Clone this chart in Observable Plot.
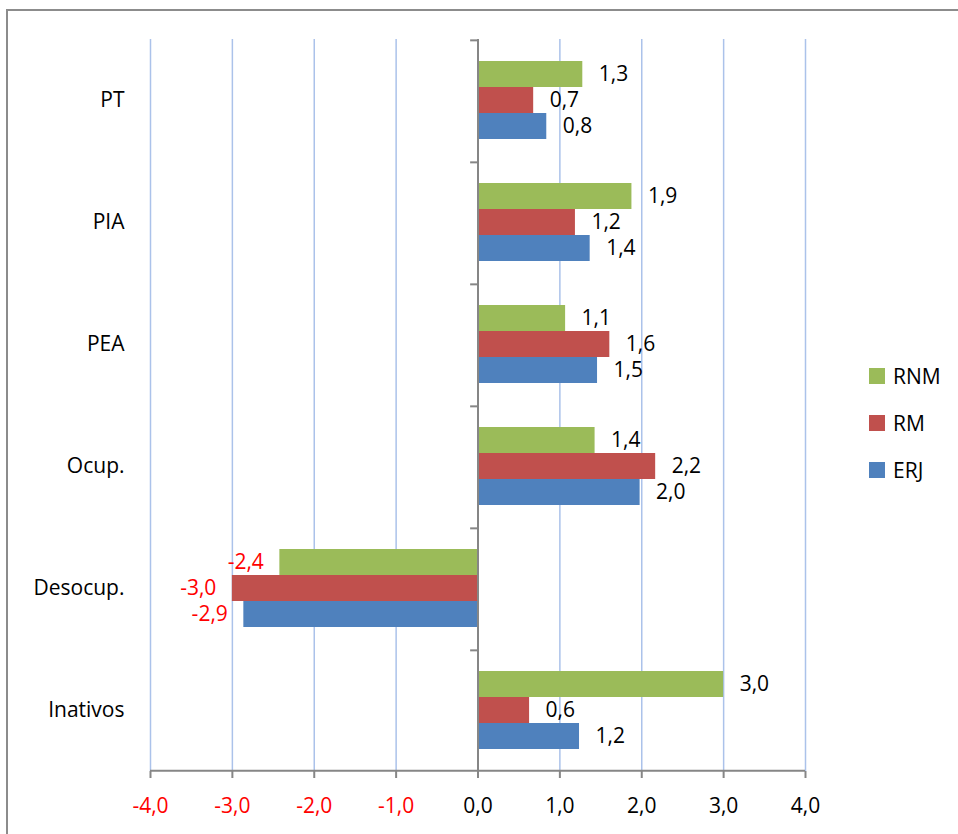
<!DOCTYPE html>
<html>
<head>
<meta charset="utf-8">
<script src="https://cdn.jsdelivr.net/npm/d3@7"></script>
<script src="https://cdn.jsdelivr.net/npm/@observablehq/plot@0.6"></script>
<style>
  html, body { margin: 0; padding: 0; background: #fff; overflow: hidden; }
  #wrap { position: relative; width: 958px; height: 834px; overflow: hidden; font-family: "Open Sans", Lato, sans-serif; }
  #border { position: absolute; left: 6px; top: 9px; width: 1000px; height: 900px; border-left: 2px solid #8c8c8c; border-top: 2px solid #8c8c8c; box-sizing: border-box; }
  #chart { position: absolute; left: 0; top: 0; }
  #legend { position: absolute; left: 869px; top: 362px; }
  .item { display: flex; align-items: center; height: 28px; margin-bottom: 19px; font-size: 21px; color: #000; }
  .sw { width: 16px; height: 16px; margin-right: 8px; }
</style>
</head>
<body>
<div id="wrap">
  <div id="border"></div>
  <div id="chart"></div>
  <div id="legend"></div>
</div>
<script>
const categories = ["PT", "PIA", "PEA", "Ocup.", "Desocup.", "Inativos"];
const series = ["RNM", "RM", "ERJ"];
const colors = ["#9BBB59", "#C0504D", "#4F81BD"];
const rnm = [1.28, 1.88, 1.07, 1.43, -2.42, 3.0];
const rm  = [0.68, 1.19, 1.61, 2.17, -3.0, 0.63];
const erj = [0.84, 1.37, 1.46, 1.98, -2.86, 1.24];
const xTicks = [-4, -3, -2, -1, 0, 1, 2, 3, 4];

const W = 958, H = 834;
const mT = 37, mB = 62, mL = 150, mR = 153;
const padOuter = 0.76;
const facetH = (H - mT - mB) / categories.length;
const step = facetH / (series.length + 2 * padOuter);
const edge = (padOuter + 0.5) * step;

const values = {RNM: rnm, RM: rm, ERJ: erj};
const rows = [];
categories.forEach((c, i) => series.forEach(s => rows.push({cat: c, series: s, value: values[s][i]})));

const fmt = v => v.toFixed(1).replace(".", ",");
const gridColor = "#abc2ea";
const axisColor = "#868686";
const font = "'Open Sans', Lato, sans-serif";
const fs = 21;

const chart = Plot.plot({
  width: W, height: H,
  marginTop: mT, marginBottom: mB, marginLeft: mL, marginRight: mR,
  style: {fontFamily: font, background: "transparent"},
  x: {domain: [-4, 4], axis: null},
  y: {domain: series, paddingInner: 0, paddingOuter: padOuter, axis: null},
  fy: {domain: categories, padding: 0, axis: null},
  color: {domain: series, range: colors},
  marks: [
    Plot.gridX(xTicks.filter(d => d !== 0), {stroke: gridColor, strokeOpacity: 1, strokeWidth: 1.5}),
    Plot.barX(rows, {fy: "cat", y: "series", x: "value", fill: "series"}),
    Plot.ruleX([0], {stroke: axisColor, strokeWidth: 2}),
    Plot.ruleY(categories, {fy: d => d, y: () => "RNM", x1: -0.09, x2: 0, dy: -edge, stroke: axisColor, strokeWidth: 2}),
    Plot.ruleY(categories.slice(-1), {fy: d => d, y: () => "ERJ", x1: -4, x2: 4, dy: edge, stroke: axisColor, strokeWidth: 2}),
    Plot.text(rows.filter(d => d.value >= 0), {fy: "cat", y: "series", x: "value", text: d => fmt(d.value), dx: 16, dy: 0, textAnchor: "start", fill: "#000", fontSize: fs}),
    Plot.text(rows.filter(d => d.value < 0), {fy: "cat", y: "series", x: "value", text: d => fmt(d.value), dx: -16, dy: 0, textAnchor: "end", fill: "#ff0000", fontSize: fs}),
    Plot.axisX(xTicks.filter(d => d < 0), {tickSize: 7, tickPadding: 20, tickFormat: fmt, stroke: axisColor, strokeWidth: 2, fill: "#ff0000", fontSize: fs, label: null}),
    Plot.axisX(xTicks.filter(d => d >= 0), {tickSize: 7, tickPadding: 20, tickFormat: fmt, stroke: axisColor, strokeWidth: 2, fill: "#000", fontSize: fs, label: null}),
    Plot.axisFy({anchor: "left", tickSize: 0, tickPadding: 26, fontSize: fs, fill: "#000", label: null})
  ]
});
document.getElementById("chart").appendChild(chart);

const legend = document.getElementById("legend");
series.forEach((s, i) => {
  const item = document.createElement("div");
  item.className = "item";
  const sw = document.createElement("div");
  sw.className = "sw";
  sw.style.background = colors[i];
  const lab = document.createElement("span");
  lab.textContent = s;
  item.appendChild(sw);
  item.appendChild(lab);
  legend.appendChild(item);
});
</script>
</body>
</html>
